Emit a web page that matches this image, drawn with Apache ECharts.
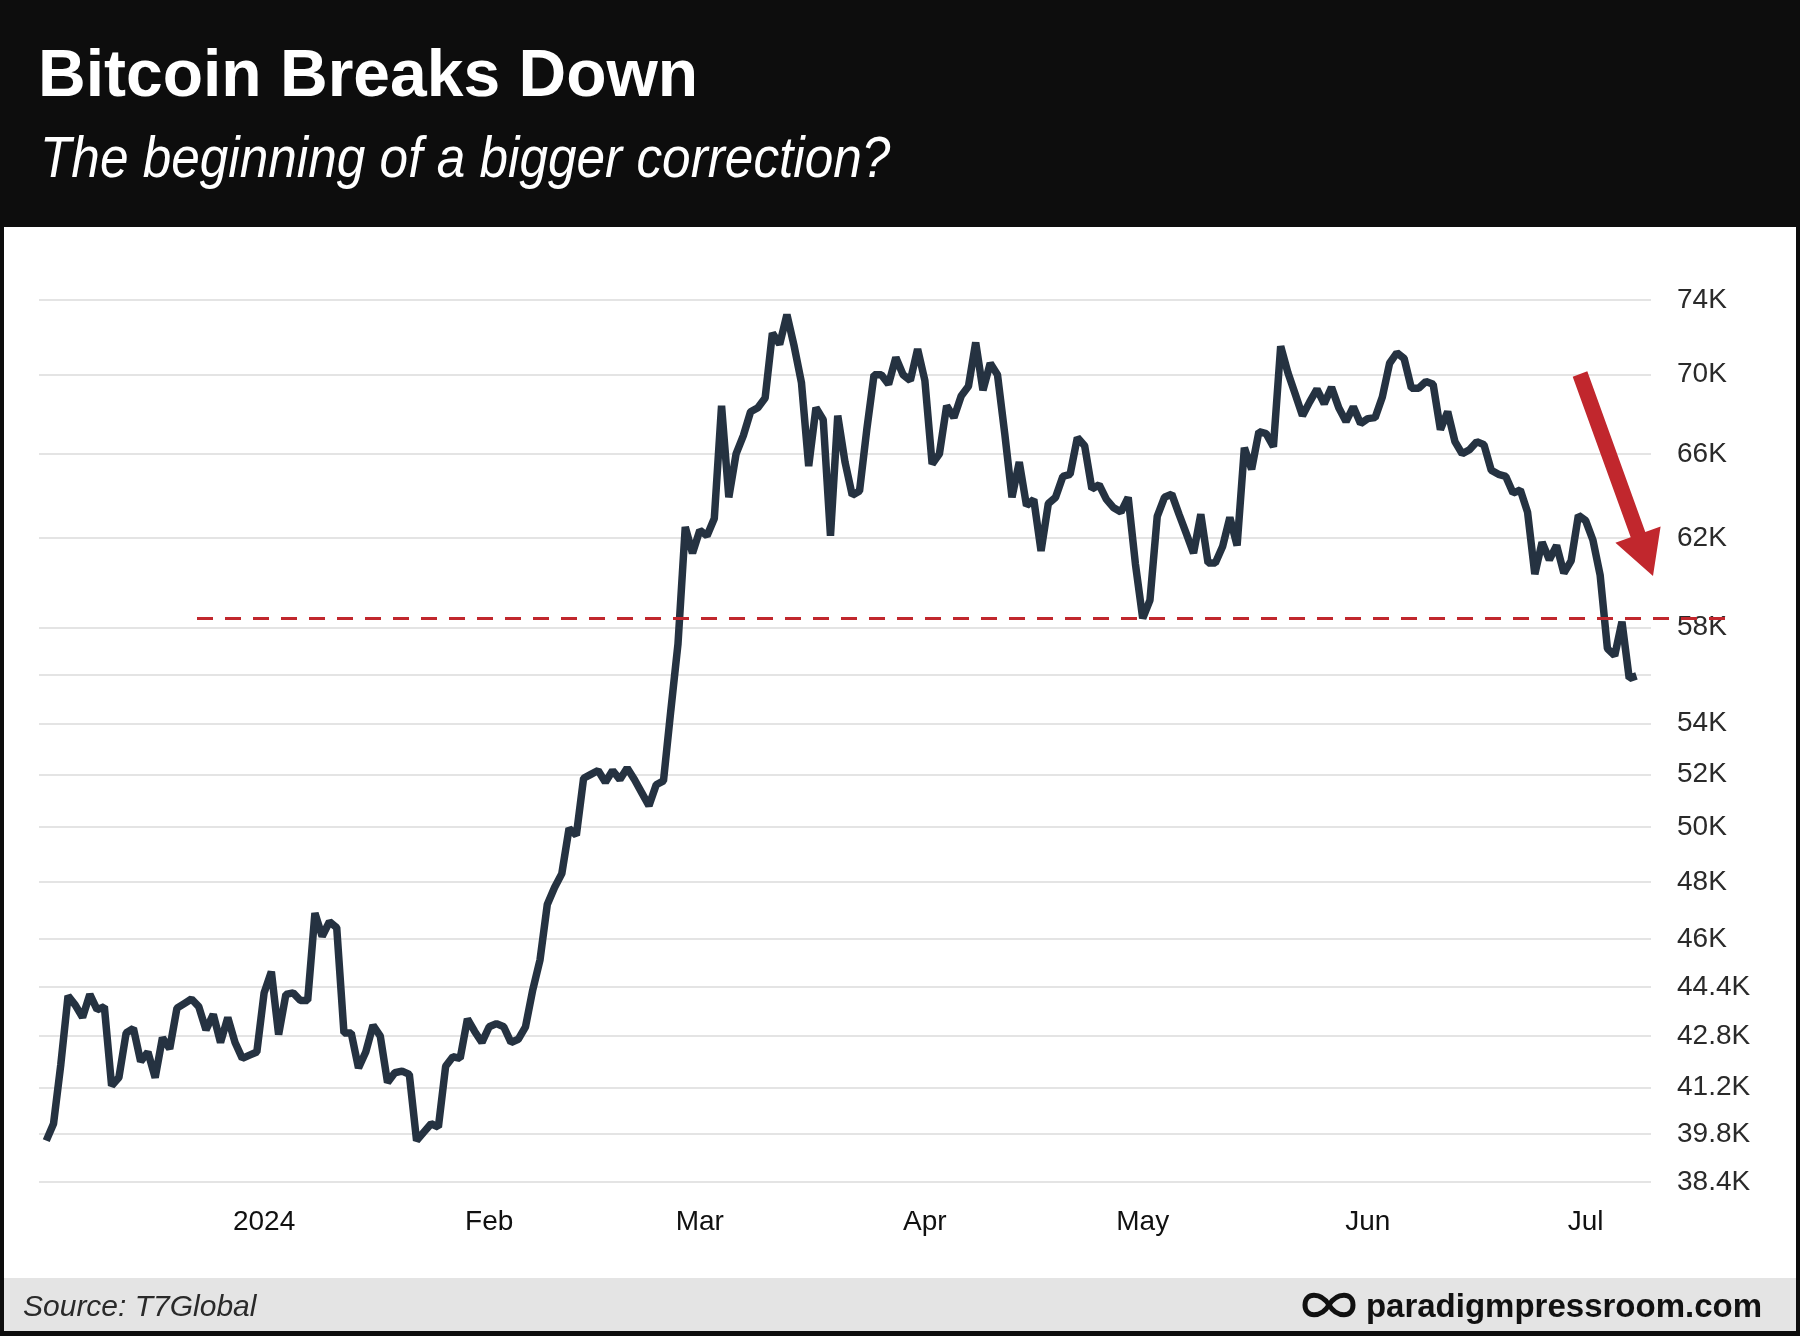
<!DOCTYPE html>
<html>
<head>
<meta charset="utf-8">
<script src="https://cdn.jsdelivr.net/npm/echarts@6/dist/echarts.min.js"></script>
<style>
html,body{margin:0;padding:0;background:#ffffff;}
#chart{width:1800px;height:1336px;}
</style>
</head>
<body>
<div id="chart"></div>
<script>
// ---- Data (BTC price, thousands of USD, daily) ----
const dec2023 = [39.6,40.1,41.9,44.1,43.8,43.4,44.15,43.65,43.75,41.25,41.5,42.9,43.05,42.0,42.3,41.5,42.75,42.4,43.7,43.85,44.0,43.75,43.0,43.5,42.6,43.4,42.6,42.1,42.2,42.3];
const jan2024 = [44.2,44.9,42.85,44.15,44.2,43.95,43.95,46.9,46.1,46.6,46.4,42.9,42.9,41.8,42.3,43.15,42.8,41.35,41.65,41.7,41.6,39.6,39.85,40.1,40.0,41.85,42.15,42.1,43.35,42.95,42.6];
const feb2024 = [43.1,43.2,43.1,42.6,42.7,43.1,44.3,45.3,47.2,47.8,48.3,49.95,49.7,51.85,52.0,52.15,51.7,52.15,51.8,52.25,51.8,51.3,50.8,51.6,51.75,54.5,57.3,62.5,61.3];
const mar2024 = [62.35,62.1,62.9,68.4,63.9,66.0,66.9,68.1,68.3,68.8,72.2,71.6,73.2,71.5,69.6,65.4,68.3,67.7,62.1,67.9,65.6,64.0,64.2,67.2,70.0,70.0,69.5,70.9,70.0,69.7,71.35];
const apr2024 = [69.7,65.5,66.0,68.4,67.8,68.9,69.4,71.7,69.2,70.6,70.0,67.0,63.9,65.6,63.5,63.8,61.4,63.6,63.9,64.9,65.0,66.8,66.4,64.3,64.5,63.8,63.4,63.2,63.9,60.8];
const may2024 = [58.4,59.2,63.0,63.9,64.05,63.1,62.2,61.3,63.1,60.85,60.85,61.6,62.95,61.65,66.3,65.25,67.1,67.0,66.35,71.5,70.1,69.0,67.9,68.6,69.25,68.5,69.35,68.3,67.6,68.35,67.5];
const jun2024 = [67.75,67.8,68.85,70.6,71.15,70.85,69.3,69.3,69.65,69.5,67.2,68.1,66.6,66.0,66.2,66.6,66.45,65.2,65.0,64.9,64.1,64.25,63.2,60.35,61.8,61.0,61.65,60.4,60.95,63.05];
const jul2024 = [62.8,61.9,60.3,57.1,56.8,58.25,55.85,55.95];

const monthBlocks = [
  {year:2023, month:12, firstDay:2, values:dec2023},
  {year:2024, month:1, firstDay:1, values:jan2024},
  {year:2024, month:2, firstDay:1, values:feb2024},
  {year:2024, month:3, firstDay:1, values:mar2024},
  {year:2024, month:4, firstDay:1, values:apr2024},
  {year:2024, month:5, firstDay:1, values:may2024},
  {year:2024, month:6, firstDay:1, values:jun2024},
  {year:2024, month:7, firstDay:1, values:jul2024}
];

// support level (dashed red line), thousands USD
const supportLevel = 58.4;

// axis ticks
const yGridValues = [38.4,39.8,41.2,42.8,44.4,46,48,50,52,54,56,58,62,66,70,74];
const yLabelValues = [38.4,39.8,41.2,42.8,44.4,46,48,50,52,54,58,62,66,70,74];
const xTickLabels = ['2024','Feb','Mar','Apr','May','Jun','Jul'];
const xRange = ['2023-12-01','2024-07-10'];

// ---- build ----
const pad = n => (n < 10 ? '0' : '') + n;
const seriesData = [];
monthBlocks.forEach(b => {
  b.values.forEach((v, i) => {
    seriesData.push([b.year + '-' + pad(b.month) + '-' + pad(b.firstDay + i), v]);
  });
});
const toTime = s => { const p = s.split('-').map(Number); return new Date(p[0], p[1]-1, p[2]).getTime(); };

const FONT = "'Liberation Sans', Arial, Helvetica, sans-serif";

const chart = echarts.init(document.getElementById('chart'), null, {renderer:'canvas', width:1800, height:1336});

const logoStyle = {fill: 'none', stroke: '#111111', lineWidth: 5};
const option = {
  backgroundColor: '#ffffff',
  animation: false,
  grid: {left: 39, right: 149, top: 300, bottom: 154, containLabel: false},
  xAxis: {
    type: 'time',
    min: toTime(xRange[0]),
    max: toTime(xRange[1]),
    minInterval: 28 * 86400000,
    maxInterval: 31 * 86400000,
    axisLine: {show: false},
    axisTick: {show: false},
    splitLine: {show: false},
    axisLabel: {
      margin: 26,
      color: '#111111',
      fontSize: 28,
      fontFamily: FONT,
      showMinLabel: false,
      showMaxLabel: false,
      formatter: function (val) {
        const d = new Date(val);
        if (d.getDate() !== 1 || d.getHours() !== 0) return '';
        if (d.getFullYear() !== 2024) return '';
        return xTickLabels[d.getMonth()] || '';
      }
    }
  },
  yAxis: {
    type: 'log',
    position: 'right',
    min: yGridValues[0],
    max: yGridValues[yGridValues.length - 1],
    axisLine: {show: false},
    axisTick: {show: false, customValues: yGridValues},
    splitLine: {show: true, lineStyle: {color: '#e4e4e4', width: 2}},
    axisLabel: {
      customValues: yLabelValues,
      margin: 26,
      color: '#2a2a2a',
      fontSize: 28,
      fontFamily: FONT,
      formatter: function (v) { return (+(+v).toFixed(1)) + 'K'; }
    }
  },
  series: [{
    type: 'line',
    data: seriesData,
    showSymbol: false,
    symbol: 'none',
    clip: false,
    lineStyle: {color: '#253241', width: 7.5, join: 'bevel', cap: 'butt'},
    z: 3,
    markLine: {
      silent: true,
      symbol: ['none', 'none'],
      label: {show: false},
      lineStyle: {color: '#c1272d', width: 3, type: [16, 12]},
      z: 6,
      data: [[{x: 197, yAxis: supportLevel}, {x: 1728, yAxis: supportLevel}]]
    }
  }],
  graphic: {
    elements: [
      {type: 'rect', shape: {x: 0, y: 0, width: 1800, height: 227}, style: {fill: '#0d0d0d'}, z: 100},
      {type: 'rect', shape: {x: 0, y: 0, width: 4, height: 1336}, style: {fill: '#0d0d0d'}, z: 100},
      {type: 'rect', shape: {x: 1796, y: 0, width: 4, height: 1336}, style: {fill: '#0d0d0d'}, z: 100},
      {type: 'rect', shape: {x: 4, y: 1278, width: 1792, height: 53}, style: {fill: '#e4e4e4'}, z: 100},
      {type: 'rect', shape: {x: 0, y: 1331, width: 1800, height: 5}, style: {fill: '#0d0d0d'}, z: 100},
      {type: 'text', x: 38, y: 111, z: 101,
        style: {text: 'Bitcoin Breaks Down', x: 0, y: 0, fill: '#ffffff', font: 'bold 66px ' + FONT, verticalAlign: 'bottom'}},
      {type: 'text', x: 40, y: 190, scaleX: 0.885, z: 101,
        style: {text: 'The beginning of a bigger correction?', x: 0, y: 0, fill: '#ffffff', font: 'italic 58px ' + FONT, verticalAlign: 'bottom'}},
      {type: 'text', x: 23, y: 1323, z: 101,
        style: {text: 'Source: T7Global', x: 0, y: 0, fill: '#2a2a2a', font: 'italic 30px ' + FONT, verticalAlign: 'bottom'}},
      {type: 'text', x: 1762, y: 1324, z: 101,
        style: {text: 'paradigmpressroom.com', x: 0, y: 0, fill: '#111111', font: 'bold 33px ' + FONT, align: 'right', verticalAlign: 'bottom'}},
      {type: 'bezierCurve', z: 101, shape: {x1: 1329, y1: 1305, cpx1: 1321, cpy1: 1292, cpx2: 1305, cpy2: 1292, x2: 1305, y2: 1305}, style: logoStyle},
      {type: 'bezierCurve', z: 101, shape: {x1: 1305, y1: 1305, cpx1: 1305, cpy1: 1318, cpx2: 1321, cpy2: 1318, x2: 1329, y2: 1305}, style: logoStyle},
      {type: 'bezierCurve', z: 101, shape: {x1: 1329, y1: 1305, cpx1: 1337, cpy1: 1292, cpx2: 1353, cpy2: 1292, x2: 1353, y2: 1305}, style: logoStyle},
      {type: 'bezierCurve', z: 101, shape: {x1: 1353, y1: 1305, cpx1: 1353, cpy1: 1318, cpx2: 1337, cpy2: 1318, x2: 1329, y2: 1305}, style: logoStyle},
      {type: 'polygon', z: 101,
        shape: {points: [[1572.7,376.7],[1587.3,371.3],[1645.3,531.9],[1660.6,526.4],[1653,576],[1615.4,542.8],[1630.7,537.3]]},
        style: {fill: '#c1272d'}}
    ]
  }
};
chart.setOption(option);
</script>
</body>
</html>
